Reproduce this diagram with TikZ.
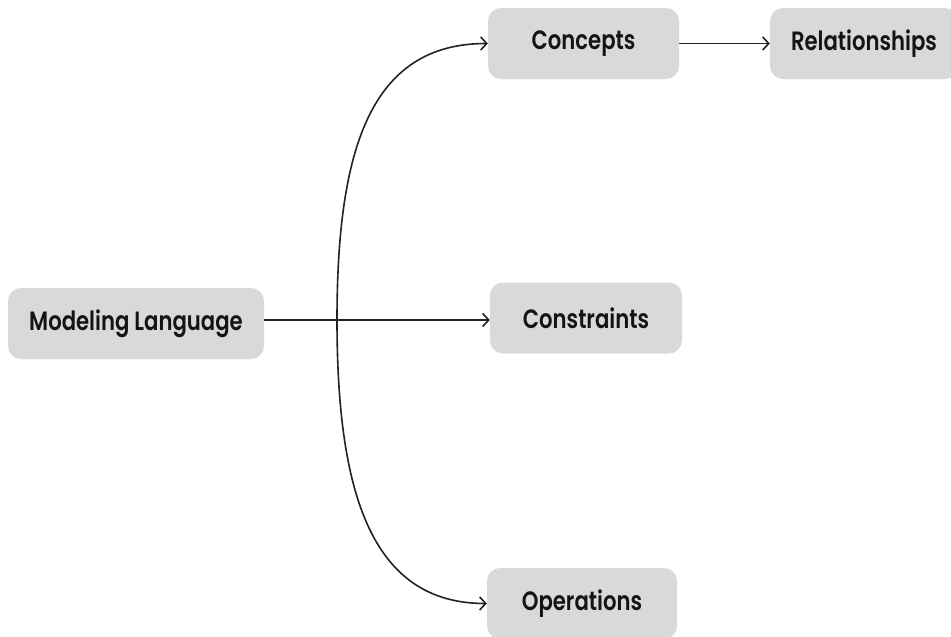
\documentclass[tikz,border=0pt]{standalone}
\usepackage{fontspec}
\setmainfont{Poppins}[UprightFont=* SemiBold, FakeStretch=0.8]
\usetikzlibrary{arrows.meta}
\definecolor{boxfill}{HTML}{D9D9D9}
\definecolor{inkline}{HTML}{222222}
\definecolor{inktext}{HTML}{141414}
\begin{document}
\begin{tikzpicture}[x=1pt, y=-1pt,
  box/.style={draw=none, fill=boxfill, rounded corners=13pt, minimum height=71pt,
    inner sep=0pt, text=inktext, font=\fontsize{26.5}{30}\selectfont},
  link/.style={draw=inkline, line width=1.6pt,
    -{Straight Barb[length=6pt, width=13pt, line width=1.6pt]}}
]
\useasboundingbox (0,0) rectangle (951,637);

% boxes
\node[box, minimum width=256pt] (ml)   at (136,323.5) {Modeling Language};
\node[box, minimum width=191pt] (conc) at (583.5,43.5) {Concepts};
\node[box, minimum width=188pt] (rel)  at (864,43.5) {Relationships};
\node[box, minimum width=192pt] (cons) at (586,318) {Constraints};
\node[box, minimum width=190pt] (oper) at (582,603.5) {Operations};

% branch point on the main line
\coordinate (fork) at (337,320);

% connectors
\draw[link] (ml.east |- fork) -- (cons.west |- fork);
\draw[link] (fork) .. controls (337,150) and (370,43.5) .. (conc.west);
\draw[link] (fork) .. controls (337,490) and (370,603.5) .. (oper.west);
\draw[link] (conc.east) -- (rel.west);
\end{tikzpicture}
\end{document}
